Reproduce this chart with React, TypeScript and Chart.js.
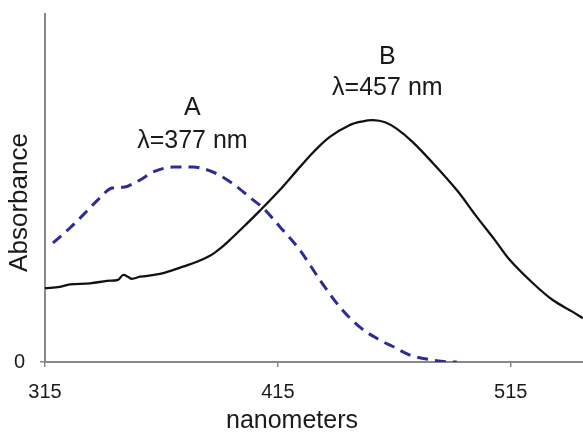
import { useEffect, useRef } from 'react';
import { Chart, registerables } from 'chart.js';

Chart.register(...registerables);

// X axis ticks (nanometers) and y ticks
const xTickValues = [315, 415, 515];
const yTickValues = [0];
const xMin = 315;
const xMax = 546;
const yMin = 0;
const yMax = 1;

// Series B (solid black), wavelength (nm) and absorbance (relative)
const bWavelengths = [315, 321.4, 325.7, 334.3, 341.6, 346.3, 348.5, 350.6, 352.3, 355.8, 364.4, 369.9, 374.2, 380.2, 385.8, 390, 394.4, 400.5, 407.3, 415.9, 424.4, 430.5, 437.3, 445.9, 451, 455.8, 461, 466.1, 472.9, 481.5, 491.8, 500.4, 508.1, 514.6, 524.4, 533, 541.6, 545.9];
const bAbsorbance = [0.212, 0.216, 0.223, 0.226, 0.233, 0.236, 0.25, 0.245, 0.239, 0.245, 0.253, 0.264, 0.274, 0.288, 0.305, 0.325, 0.351, 0.39, 0.435, 0.495, 0.56, 0.605, 0.647, 0.681, 0.691, 0.695, 0.689, 0.67, 0.632, 0.572, 0.494, 0.417, 0.351, 0.293, 0.227, 0.178, 0.144, 0.126];

// Series A (dashed blue)
const aWavelengths = [318.4, 325.7, 331.3, 337.7, 343.8, 349.3, 353.5, 355.8, 361.4, 369.9, 378.5, 387.1, 395.3, 404.3, 408.6, 415.9, 424.4, 433, 441.6, 450.2, 458.8, 463.9, 471.7, 481.1, 489.7, 491.8];
const aAbsorbance = [0.342, 0.385, 0.422, 0.466, 0.5, 0.503, 0.515, 0.523, 0.546, 0.56, 0.56, 0.546, 0.514, 0.466, 0.443, 0.388, 0.322, 0.236, 0.158, 0.1, 0.063, 0.046, 0.02, 0.006, 0, 0];

// Text labels
const seriesNames = ['A', 'B'];
const peakLabels = ['λ=377 nm', 'λ=457 nm'];
const xAxisTitle = 'nanometers';
const yAxisTitle = 'Absorbance';

const FONT = '"Liberation Sans", Arial, Helvetica, sans-serif';
const TEXT_COLOR = '#1a1a1a';
const AXIS_COLOR = '#888888';

const textPlugin = {
  id: 'customTexts',
  afterDraw(chart: any) {
    const { ctx, chartArea, scales } = chart;
    const xs = scales.x;
    const ys = scales.y;
    ctx.save();
    ctx.fillStyle = TEXT_COLOR;
    ctx.textAlign = 'center';
    ctx.textBaseline = 'middle';
    ctx.font = `25px ${FONT}`;
    // annotation anchors in data units
    const anchors = [
      { x: 378.3, y1: 0.73, y2: 0.635 },
      { x: 462, y1: 0.875, y2: 0.787 },
    ];
    anchors.forEach((a, i) => {
      const px = xs.getPixelForValue(a.x);
      ctx.fillText(seriesNames[i], px, ys.getPixelForValue(a.y1));
      ctx.fillText(peakLabels[i], px, ys.getPixelForValue(a.y2));
    });
    // x axis title
    ctx.font = `25px ${FONT}`;
    ctx.fillText(xAxisTitle, chartArea.left + 247, chartArea.bottom + 59.5);
    // y axis title
    ctx.translate(20, chartArea.top + 188.5);
    ctx.rotate(-Math.PI / 2);
    ctx.font = `26px ${FONT}`;
    ctx.fillText(yAxisTitle, 0, 0);
    ctx.restore();
  },
};

export default function App() {
  const canvasRef = useRef<HTMLCanvasElement | null>(null);

  useEffect(() => {
    document.body.style.margin = '0';
    const canvas = canvasRef.current;
    if (!canvas) return;
    const chart = new Chart(canvas, {
      type: 'line',
      data: {
        datasets: [
          {
            label: 'A',
            data: aWavelengths.map((x, i) => ({ x, y: aAbsorbance[i] })),
            borderColor: '#2d2a9a',
            borderWidth: 3,
            borderDash: [11, 7],
            pointRadius: 0,
            fill: false,
            cubicInterpolationMode: 'monotone',
          },
          {
            label: 'B',
            data: bWavelengths.map((x, i) => ({ x, y: bAbsorbance[i] })),
            borderColor: '#111111',
            borderWidth: 2.3,
            pointRadius: 0,
            fill: false,
            tension: 0.35,
          },
        ],
      },
      options: {
        responsive: false,
        animation: false,
        devicePixelRatio: 1,
        layout: { padding: { top: 14, right: 0, bottom: 0, left: 0 } },
        plugins: {
          legend: { display: false },
          tooltip: { enabled: false },
          title: { display: false },
        },
        events: [],
        scales: {
          x: {
            type: 'linear',
            min: xMin,
            max: xMax,
            afterBuildTicks: (scale: any) => {
              scale.ticks = xTickValues.map((v) => ({ value: v }));
            },
            afterFit: (scale: any) => {
              scale.height = 72;
              scale.paddingLeft = 0;
              scale.paddingRight = 0;
            },
            ticks: {
              autoSkip: false,
              maxRotation: 0,
              padding: 13,
              color: TEXT_COLOR,
              font: { family: FONT, size: 20 },
              callback: (v: any) => String(v),
            },
            grid: {
              display: true,
              drawOnChartArea: false,
              drawTicks: true,
              tickLength: 5,
              color: AXIS_COLOR,
              lineWidth: 1.5,
            },
            border: { display: true, color: AXIS_COLOR, width: 2 },
          },
          y: {
            type: 'linear',
            min: yMin,
            max: yMax,
            afterBuildTicks: (scale: any) => {
              scale.ticks = yTickValues.map((v) => ({ value: v }));
            },
            afterFit: (scale: any) => {
              scale.width = 45;
              scale.paddingTop = 0;
              scale.paddingBottom = 0;
            },
            ticks: {
              padding: 15,
              color: TEXT_COLOR,
              font: { family: FONT, size: 20 },
              callback: (v: any) => String(v),
            },
            grid: {
              display: true,
              drawOnChartArea: false,
              drawTicks: true,
              tickLength: 5,
              color: AXIS_COLOR,
              lineWidth: 1.5,
            },
            border: { display: true, color: AXIS_COLOR, width: 2 },
          },
        },
      },
      plugins: [textPlugin],
    } as any);
    return () => chart.destroy();
  }, []);

  return (
    <div style={{ position: 'fixed', left: 0, top: 0, width: 583, height: 434, background: '#ffffff' }}>
      <canvas ref={canvasRef} width={583} height={434} style={{ display: 'block' }} />
    </div>
  );
}
